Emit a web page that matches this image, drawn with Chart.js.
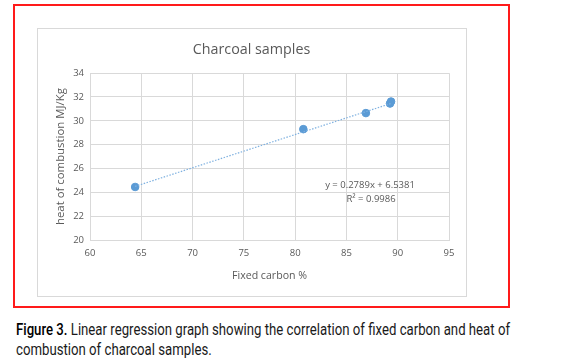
<!doctype html>
<html lang="en">
  <head>
    <meta charset="utf-8">
    <title>Charcoal samples</title>
    <style>
      * { margin: 0; padding: 0; }
      body { width: 585px; height: 364px; background: #fff; position: relative; overflow: hidden; }
      .frame {
        position: absolute; left: 13px; top: 4px; width: 493px; height: 300px;
        border: 2px solid #ff1a1a;
      }
      .chartBox {
        position: absolute; left: 37px; top: 28px; width: 428px; height: 267px;
        border: 1px solid #d9d9d9; background: #fff;
      }
      .caption {
        position: absolute; left: 16px; top: 320px;
        font-family: Roboto, sans-serif;
        font-size: 16.5px; line-height: 19.7px; color: #1a1a1a;
      }
      .caption span { display: block; white-space: nowrap; transform-origin: 0 0; }
      .caption b { font-weight: 500; color: #000; }
    </style>
  </head>
  <body>
    <div class="frame"></div>
    <div class="chartBox"><canvas id="myChart" width="428" height="267"></canvas></div>
    <div class="caption">
      <span id="cap1"><b>Figure 3.</b> Linear regression graph showing the correlation of fixed carbon and heat of</span>
      <span id="cap2">combustion of charcoal samples.</span>
    </div>
    <script src="https://cdn.jsdelivr.net/npm/chart.js/dist/chart.umd.min.js"></script>
    <script>
    // sample values
    const fixedCarbon = [64.4, 80.8, 86.9, 89.25, 89.35];
    const heatValues = [24.45, 29.3, 30.65, 31.45, 31.62];
    // trendline end points
    const trendX = [64.4, 89.4];
    const trendY = [24.5, 31.47];
    const xTicks = [60, 65, 70, 75, 80, 85, 90, 95];
    const yTicks = [20, 22, 24, 26, 28, 30, 32, 34];
    const equationText = ['y = 0.2789x + 6.5381', 'R² = 0.9986'];

    const grey = '#595959';
    const blue = '#5b9bd5';

    // squeeze the caption like the narrow journal font
    const cap1 = document.getElementById('cap1');
    const squeeze = 494 / cap1.getBoundingClientRect().width;
    document.querySelectorAll('.caption span').forEach(s => {
      s.style.transform = 'scaleX(' + squeeze + ')';
    });

    const equationLabel = {
      id: 'equationLabel',
      afterDatasetsDraw(chart) {
        const ctx = chart.ctx;
        const x = chart.scales.x, y = chart.scales.y;
        ctx.save();
        ctx.font = '9.5px "Open Sans", sans-serif';
        ctx.fillStyle = grey;
        ctx.textAlign = 'center';
        ctx.textBaseline = 'middle';
        ctx.fillText(equationText[0], x.getPixelForValue(87.3), y.getPixelForValue(24.55));
        ctx.fillText(equationText[1], x.getPixelForValue(87.4), y.getPixelForValue(23.4));
        ctx.restore();
      }
    };

    const data = {
      datasets: [{
        type: 'line',
        data: trendX.map((v, i) => ({ x: v, y: trendY[i] })),
        borderColor: '#7fb1e0',
        borderWidth: 1.2,
        borderDash: [1.5, 1.5],
        pointRadius: 0,
        fill: false
      }, {
        type: 'scatter',
        data: fixedCarbon.map((v, i) => ({ x: v, y: heatValues[i] })),
        backgroundColor: blue,
        borderColor: blue,
        pointRadius: 3.8
      }]
    };

    const config = {
      type: 'scatter',
      data,
      plugins: [equationLabel],
      options: {
        responsive: false,
        animation: false,
        layout: { padding: { left: 16, right: 17, top: 0, bottom: 14 } },
        plugins: {
          legend: { display: false },
          tooltip: { enabled: false },
          title: {
            display: true,
            text: 'Charcoal samples',
            color: grey,
            font: { family: 'Open Sans', size: 14.3, weight: 'normal' },
            padding: { top: 12, bottom: 15 }
          }
        },
        scales: {
          x: {
            type: 'linear', min: 60, max: 95,
            afterBuildTicks: s => { s.ticks = xTicks.map(v => ({ value: v })); },
            afterFit: s => { s.height = 42; },
            grid: { color: '#d9d9d9', drawTicks: false },
            border: { color: '#d9d9d9' },
            ticks: { color: grey, padding: 8, font: { family: 'Open Sans', size: 9.5 } },
            title: {
              display: true, text: 'Fixed carbon %', color: grey,
              font: { family: 'Open Sans', size: 10.6 }, padding: { top: 4, bottom: 0 }
            }
          },
          y: {
            type: 'linear', min: 20, max: 34,
            afterBuildTicks: s => { s.ticks = yTicks.map(v => ({ value: v })); },
            afterFit: s => { s.width = 36; },
            grid: { color: '#d9d9d9', drawTicks: false },
            border: { color: '#d9d9d9' },
            ticks: { color: grey, padding: 6, font: { family: 'Open Sans', size: 9.5 } },
            title: {
              display: true, text: 'heat of combustion MJ/Kg', color: grey,
              font: { family: 'Open Sans', size: 11.4 }, padding: 0
            }
          }
        }
      }
    };

    new Chart(document.getElementById('myChart'), config);
    </script>
  </body>
</html>
